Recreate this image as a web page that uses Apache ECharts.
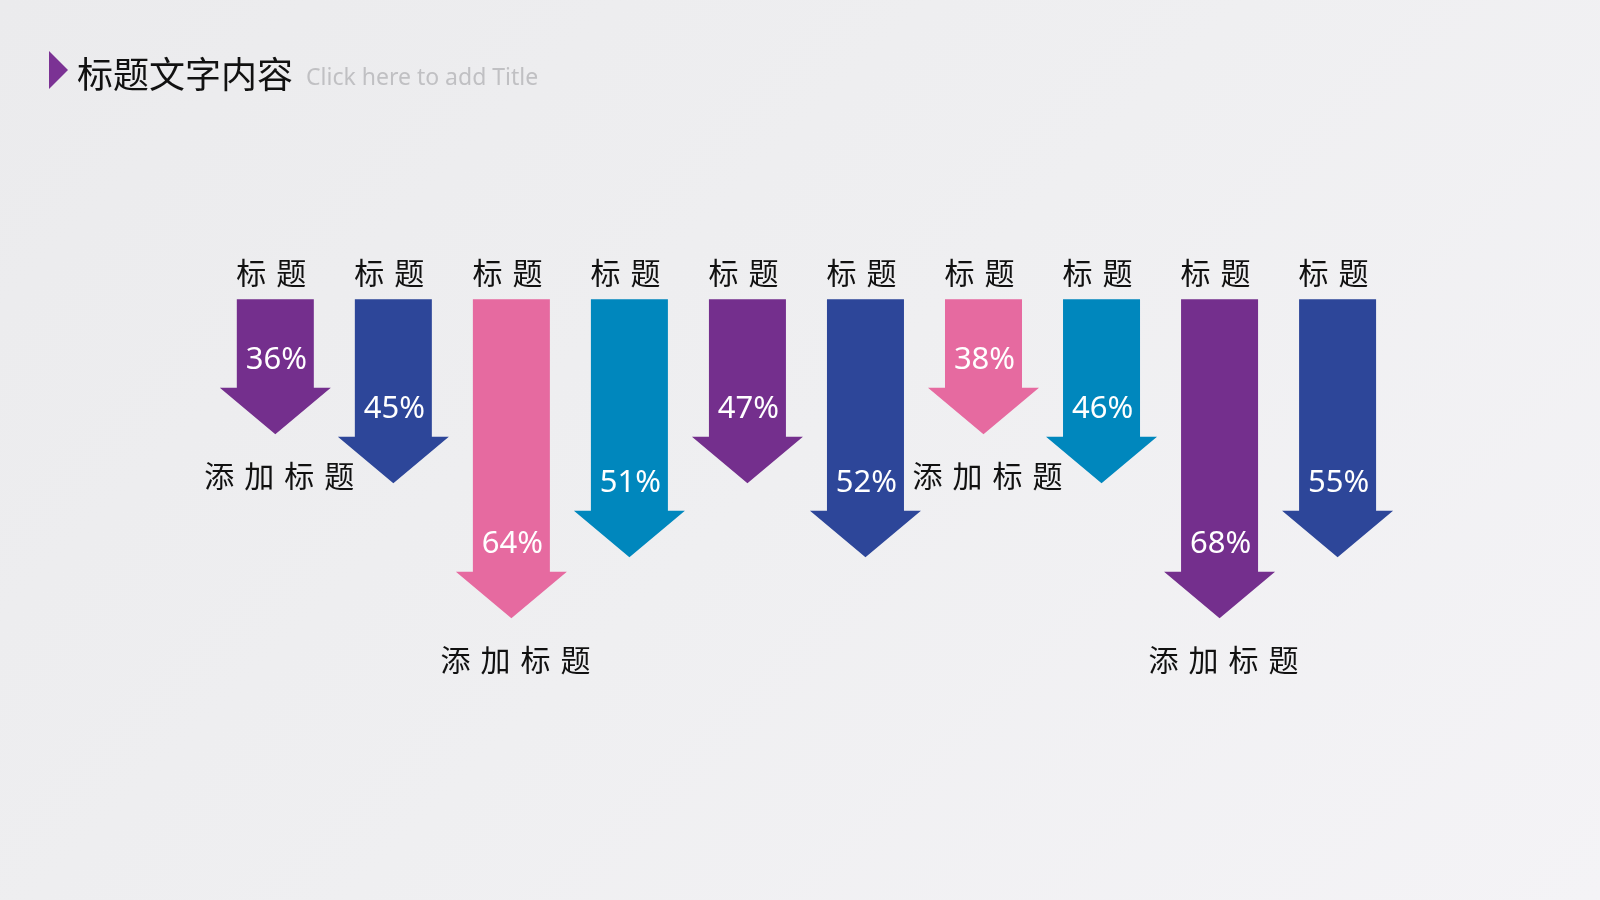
<!DOCTYPE html>
<html>
<head>
<meta charset="utf-8">
<script src="https://cdn.jsdelivr.net/npm/echarts@6/dist/echarts.min.js"></script>
<style>
html,body{margin:0;padding:0;width:1600px;height:900px;overflow:hidden;
background:linear-gradient(135deg,#ebebed 0%,#efeff1 50%,#f4f3f6 100%);}
#c{width:1600px;height:900px;}
</style>
</head>
<body>
<div id="c"></div>
<script>
// ---- data ----
const categories = ['标题','标题','标题','标题','标题','标题','标题','标题','标题','标题'];
const percentValues = [36, 45, 64, 51, 47, 52, 38, 46, 68, 55];
const arrowLengths = [135, 184, 319, 258, 184, 258, 135, 184, 319, 258];
const bottomLabels = ['添加标题', '', '添加标题', '', '', '', '添加标题', '', '添加标题', ''];
const arrowColors = ['#742f8d', '#2d4699', '#e66aa0', '#0087bd', '#742f8d', '#2d4699', '#e66aa0', '#0087bd', '#742f8d', '#2d4699'];
const titleText = '标题文字内容';
const subTitleText = 'Click here to add Title';

const cjk = '"Noto Sans CJK SC", "Microsoft YaHei", sans-serif';
const latin = '"Noto Sans", "Open Sans", sans-serif';
const gap = '\u2004';

const data = categories.map((c, i) => [i, arrowLengths[i], percentValues[i]]);

const chart = echarts.init(document.getElementById('c'), null, {renderer: 'canvas'});
chart.setOption({
  backgroundColor: 'transparent',
  animation: false,
  graphic: [
    {type: 'polygon', shape: {points: [[49, 51], [68, 70], [49, 89]]}, style: {fill: '#7b3294'}},
    {type: 'text', x: 77, y: 74, style: {text: titleText, font: '36px ' + cjk, fill: '#111', verticalAlign: 'middle'}},
    {type: 'text', x: 306, y: 78, style: {text: subTitleText, font: '23px ' + latin, fill: '#c0c0c3', verticalAlign: 'middle'}}
  ],
  grid: {left: 216.3, top: 299.3, width: 1180.3, height: 500},
  xAxis: {
    type: 'category',
    position: 'top',
    data: categories,
    axisLine: {show: false},
    axisTick: {show: false},
    splitLine: {show: false},
    axisLabel: {
      margin: 27,
      verticalAlign: 'middle',
      fontSize: 30,
      fontFamily: cjk,
      color: '#111',
      padding: [0, 8, 0, 0],
      formatter: v => v.split('').join(gap)
    }
  },
  yAxis: {
    type: 'value', inverse: true, min: 0, max: 500, show: false
  },
  series: [{
    type: 'custom',
    data: data,
    renderItem: function (params, api) {
      const i = api.value(0);
      const len = api.value(1);
      const x = api.coord([i, 0])[0];
      const top = api.coord([i, 0])[1];
      const tip = api.coord([i, len])[1];
      const sw = 77, hw = 111, hh = 46.5;
      const hy = tip - hh;
      const children = [{
        type: 'polygon',
        shape: {points: [[x - sw / 2, top], [x + sw / 2, top], [x + sw / 2, hy], [x + hw / 2, hy], [x, tip], [x - hw / 2, hy], [x - sw / 2, hy]]},
        style: {fill: arrowColors[params.dataIndex]}
      }, {
        type: 'text',
        x: x + 1, y: hy - 28,
        style: {text: api.value(2) + '%', font: '31px ' + latin, fill: '#fff', align: 'center', verticalAlign: 'middle'}
      }];
      const bl = bottomLabels[params.dataIndex];
      if (bl) {
        children.push({
          type: 'text',
          x: x + 4, y: tip + 41,
          style: {text: bl.split('').join(gap), font: '30px ' + cjk, fill: '#111', align: 'center', verticalAlign: 'middle'}
        });
      }
      return {type: 'group', children: children};
    }
  }]
});
</script>
</body>
</html>
